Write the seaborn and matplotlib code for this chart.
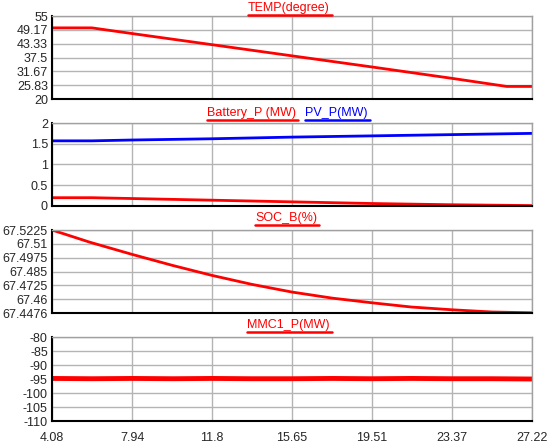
import numpy as np
import pandas as pd
import matplotlib
matplotlib.use("Agg")
import matplotlib.pyplot as plt
import seaborn as sns
from matplotlib.lines import Line2D

# values
x_ticks = [4.08, 7.94, 11.8, 15.65, 19.51, 23.37, 27.22]

temp_t = [4.08, 6.0, 7.94, 11.8, 15.65, 19.51, 23.37, 26.0, 27.22]
temp_v = [50.0, 50.0, 47.6, 42.9, 38.2, 33.5, 28.7, 25.3, 25.3]

pow_t = [4.08, 6.0, 7.94, 11.8, 15.65, 19.51, 23.37, 27.22]
batt_v = [0.20, 0.20, 0.18, 0.14, 0.10, 0.06, 0.03, 0.01]
pv_v = [1.57, 1.57, 1.59, 1.62, 1.66, 1.69, 1.72, 1.75]

soc_t = [4.08, 5.9, 7.94, 9.9, 11.8, 13.7, 15.65, 17.6, 19.51, 21.4, 23.37, 25.3, 27.22]
soc_v = [67.5225, 67.5115, 67.5005, 67.4905, 67.4815, 67.4735, 67.4665, 67.4610,
         67.4568, 67.4530, 67.4505, 67.4485, 67.4478]

mmc_t = [4.08, 6.0, 7.94, 9.9, 11.8, 13.7, 15.65, 17.6, 19.51, 21.4, 23.37, 25.3, 27.22]
mmc_v = [-94.8, -94.9, -94.8, -94.9, -94.8, -94.9, -94.9, -94.8, -94.9, -94.8, -94.9, -94.9, -95.0]

temp_ticks = [20, 25.83, 31.67, 37.5, 43.33, 49.17, 55]
pow_ticks = [0, 0.5, 1, 1.5, 2]
soc_ticks = [67.4476, 67.46, 67.4725, 67.485, 67.4975, 67.51, 67.5225]
mmc_ticks = [-110, -105, -100, -95, -90, -85, -80]

sns.set_style("white")
plt.rcParams['font.family'] = ['Liberation Sans', 'DejaVu Sans']
plt.rcParams['font.size'] = 9
plt.rcParams['axes.unicode_minus'] = False

fig = plt.figure(figsize=(5.5, 4.44), dpi=100)
W, H = 550, 444
left, right = 52 / W, 532 / W
panels = [(16, 99), (123, 206), (230, 313), (337, 421)]
axes = []
for top, bot in panels:
    ax = fig.add_axes([left, 1 - bot / H, right - left, (bot - top) / H])
    axes.append(ax)

sns.lineplot(x=temp_t, y=temp_v, ax=axes[0], color='#ff0000', linewidth=2)
sns.lineplot(x=pow_t, y=pv_v, ax=axes[1], color='#0000ff', linewidth=2)
sns.lineplot(x=pow_t, y=batt_v, ax=axes[1], color='#ff0000', linewidth=2)
sns.lineplot(x=soc_t, y=soc_v, ax=axes[2], color='#ff0000', linewidth=2)
sns.lineplot(x=mmc_t, y=mmc_v, ax=axes[3], color='#ff0000', linewidth=3.5)

ylims = [(20, 55), (0, 2), (67.4476, 67.5225), (-110, -80)]
yticks = [temp_ticks, pow_ticks, soc_ticks, mmc_ticks]
for i, ax in enumerate(axes):
    ax.set_xlim(4.08, 27.22)
    ax.set_ylim(*ylims[i])
    ax.set_xticks(x_ticks)
    ax.set_yticks(yticks[i])
    ax.set_yticklabels(['%g' % v for v in yticks[i]])
    ax.grid(True, color='#b4b4b4', linewidth=1)
    ax.set_axisbelow(True)
    ax.tick_params(length=0, pad=3, labelsize=9)
    for s in ['top', 'right']:
        ax.spines[s].set_color('#a0a0a0')
        ax.spines[s].set_linewidth(1)
    for s in ['left', 'bottom']:
        ax.spines[s].set_color('black')
        ax.spines[s].set_linewidth(1.5)
    ax.set_xlabel('')
    ax.set_ylabel('')
    if i < 3:
        ax.set_xticklabels([])
    else:
        ax.set_xticklabels(['%g' % v for v in x_ticks])
        ax.tick_params(axis='x', pad=8)

# underlined titles
titles = [
    [("TEMP(degree)", '#ff0000', 248)],
    [("Battery_P (MW)", '#ff0000', 207), ("PV_P(MW)", '#0000ff', 305)],
    [("SOC_B(%)", '#ff0000', 255)],
    [("MMC1_P(MW)", '#ff0000', 247)],
]
title_y = [8, 113, 218, 325]
texts = []
for i, row in enumerate(titles):
    for label, col, px in row:
        t = fig.text(px / W, 1 - title_y[i] / H, label, color=col, fontsize=9,
                     ha='left', va='center')
        texts.append((t, col))

fig.canvas.draw()
r = fig.canvas.get_renderer()
for t, col in texts:
    bb = t.get_window_extent(renderer=r)
    y = (bb.y0 - 1) / H
    fig.add_artist(Line2D([bb.x0 / W, (bb.x1 + 2) / W], [y, y], color=col,
                          linewidth=1.8, transform=fig.transFigure))

fig.savefig("out.png", dpi=100)
